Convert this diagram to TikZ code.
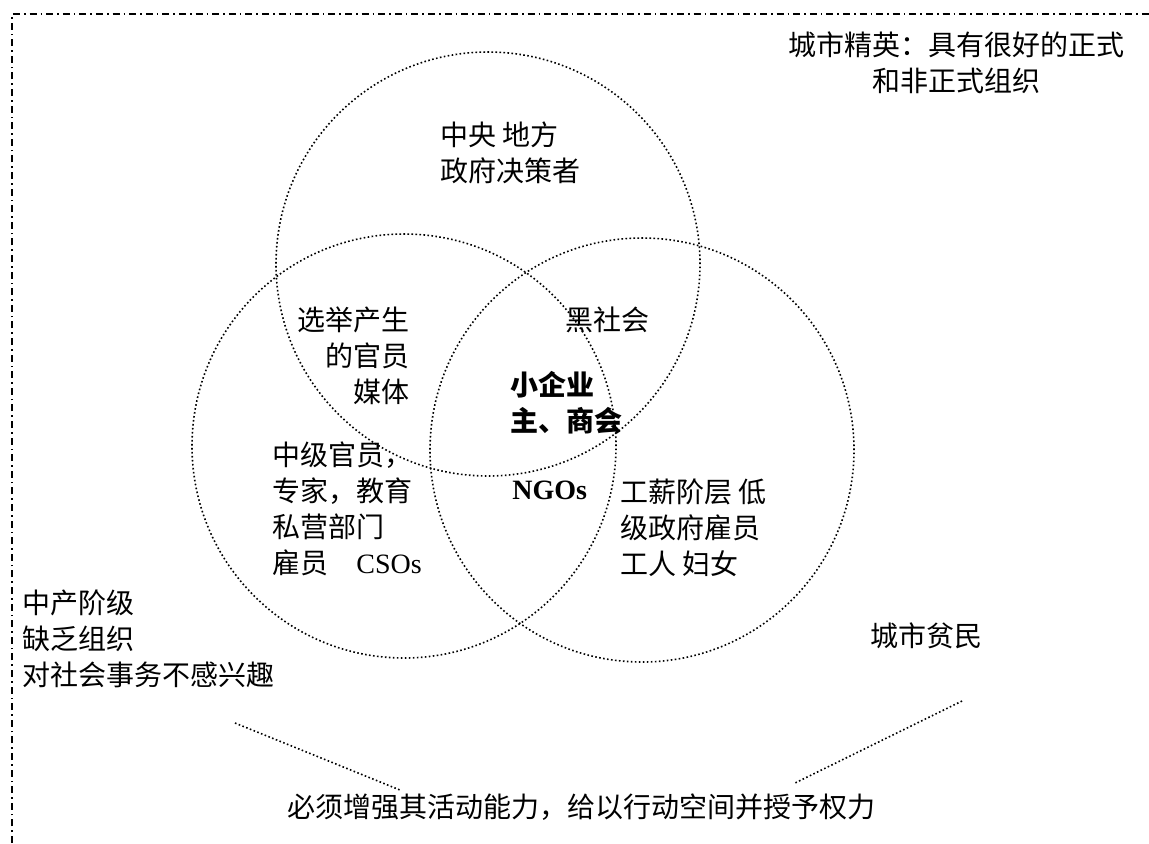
\documentclass[tikz,border=0pt]{standalone}
\usepackage{fontspec}
\setmainfont{Liberation Serif}
\newfontfamily\cjk{Noto Sans CJK SC}

\begin{document}
\begin{tikzpicture}[x=0.5pt,y=-0.5pt,inner sep=0pt,
                    font=\cjk\fontsize{14pt}{18pt}\selectfont]

  \tikzstyle{frame}=[line width=1pt,dash pattern=on 3.5pt off 2pt on 0.8pt off 2pt]
  \tikzstyle{dots}=[line width=0.8pt,dash pattern=on 0.8pt off 1.2pt]
  \tikzstyle{ring}=[circle,draw,dots,minimum size=212pt]
  \tikzstyle{txt}=[align=left,anchor=north west]

  \useasboundingbox (0,0) rectangle (1149,843);
  \draw[frame] (12,843) -- (12,14) -- (1149,14);

  % three overlapping groups
  \node[ring] (up) at (488,264) {};
  \node[ring] (lf) at (404,446) {};
  \node[ring] (rt) at (642,450) {};

  \node[align=center,anchor=north] (elite) at (956,31) {城市精英：具有很好的正式\\和非正式组织};
  \node[txt] (gov) at (440,121) {中央 地方\\政府决策者};
  \node[align=right,anchor=north east] (elect) at (410,306) {选举产生\\的官员\\媒体};
  \node[txt] (mafia) at (565,306) {黑社会};
  \node[txt,font=\cjk\bfseries\fontsize{14pt}{18pt}\selectfont] (biz) at (510,371) {小企业\\主、商会};
  \node[anchor=west,font=\rmfamily\bfseries\fontsize{14pt}{18pt}\selectfont] (ngo) at (512,490) {NGOs};
  \node[txt] (mid) at (272,441) {中级官员，\\专家，教育\\私营部门\\雇员\hspace{14pt}{\rmfamily CSOs}};
  \node[txt] (work) at (620,478) {工薪阶层 低\\级政府雇员\\工人 妇女};
  \node[txt] (mclass) at (22,589) {中产阶级\\缺乏组织\\对社会事务不感兴趣};
  \node[anchor=west] (poor) at (870,636) {城市贫民};
  \node[anchor=west] (act) at (287,807) {必须增强其活动能力，给以行动空间并授予权力};

  % pointers to the bottom line
  \coordinate (mtail) at (235,723);
  \coordinate (mhead) at (400,790);
  \coordinate (ptail) at (962,701);
  \coordinate (phead) at (795,783);
  \draw[dots] (mtail) -- (mhead);
  \draw[dots] (ptail) -- (phead);
\end{tikzpicture}
\end{document}
